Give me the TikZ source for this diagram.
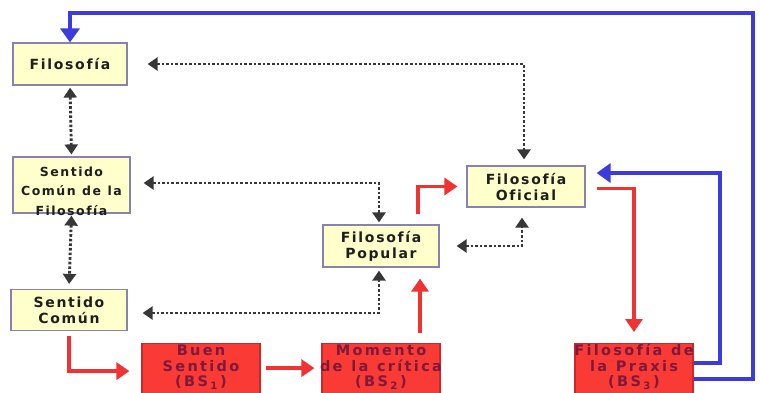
\documentclass[tikz,border=0pt]{standalone}
\usepackage{fontspec}
\usetikzlibrary{arrows.meta}
\newfontfamily\lblfont{DejaVu Sans}
% tracked text: a kern after every character, words split by \gap
\newcommand\trkamt{0.12em}
\newcommand\gap{\hspace{0.28em}}
\def\trk#1{\trkgo#1\trkend\kern-\trkamt}
\def\trkgo#1{\ifx#1\trkend\else#1\kern\trkamt\expandafter\trkgo\fi}
% a line centred on its own, allowed to run past the box edges
\newcommand\ctr[1]{\makebox[0pt]{#1}}
\newcommand\bsub[1]{\trk{(BS}\kern\trkamt\textsubscript{#1}\kern\trkamt)}
\definecolor{yfill}{RGB}{255,255,204}
\definecolor{yborder}{RGB}{135,130,175}
\definecolor{ytext}{RGB}{30,30,30}
\definecolor{rfill}{RGB}{250,58,52}
\definecolor{rborder}{RGB}{205,40,40}
\definecolor{rtext}{RGB}{125,25,60}
\definecolor{arred}{RGB}{240,50,50}
\definecolor{arblue}{RGB}{60,60,222}
\definecolor{dotgray}{RGB}{55,55,55}
\tikzset{
  ybox/.style={draw=yborder, fill=yfill, line width=1.2pt, inner xsep=0pt,
    inner ysep=2pt, align=center, text=ytext,
    font=\lblfont\bfseries\fontsize{14}{16}\selectfont},
  rbox/.style={draw=rborder, fill=rfill, line width=1.2pt, inner xsep=0pt,
    inner ysep=1pt, align=center, anchor=north, text width=118pt,
    text height=11pt, text depth=52pt, text=rtext,
    font=\lblfont\bfseries\fontsize{14.5}{15.5}\selectfont\def\trkamt{0.16em}},
  redarr/.style={draw=arred, line width=3.4pt,
    -{Triangle[length=13pt,width=17pt]}},
  bluearr/.style={draw=arblue, line width=3.4pt,
    -{Triangle[length=14pt,width=19pt]}},
  dotlink/.style={draw=dotgray, line width=2.9pt,
    dash pattern=on 2.6pt off 2pt,
    {Triangle[length=10pt,width=13pt]}-{Triangle[length=10pt,width=13pt]}}
}
\begin{document}
\begin{tikzpicture}[x=1pt,y=-1pt]
\useasboundingbox (0,0) rectangle (760,392);
\fill[white] (0,0) rectangle (760,392);

% yellow boxes
\node[ybox, text width=114pt, minimum height=42pt] (filo) at (70,64) {\trk{Filosofía}};
\node[ybox, text width=117pt, minimum height=56pt, text height=10pt, text depth=28pt,
      font=\lblfont\bfseries\fontsize{12.5}{19.5}\selectfont] (scf) at (71.5,185)
      {\trk{Sentido}\\ \ctr{\trk{Común\gap de\gap la}}\\ \trk{Filosofía}};
\node[ybox, text width=116pt, minimum height=41pt] (sc) at (69,310) {\trk{Sentido}\\ \trk{Común}};
\node[ybox, text width=116pt, minimum height=42pt] (pop) at (381,246) {\trk{Filosofía}\\ \trk{Popular}};
\node[ybox, text width=118pt, minimum height=41pt] (ofi) at (526,186.5) {\trk{Filosofía}\\ \trk{Oficial}};

% red boxes
\node[rbox] (buen) at (201,343) {\trk{Buen}\\ \trk{Sentido}\\ \bsub{1}};
\node[rbox] (mom) at (381,343) {\trk{Momento}\\ \ctr{\trk{de\gap la\gap crítica}}\\ \bsub{2}};
\node[rbox] (praxis) at (634,343) {\ctr{\trk{Filosofía\gap de}}\\ \trk{la\gap Praxis}\\ \bsub{3}};

% corner points of the blue return paths
\coordinate (topR) at (753,13);
\coordinate (midR) at (720,173);

% blue return paths
\draw[bluearr] ([yshift=-3pt]praxis.east) -| (topR) -| (filo.north);
\draw[bluearr, shorten >=11pt] ([yshift=13pt]praxis.east) -| (midR) -- (midR -| ofi.east);

% red progression
\draw[redarr, shorten <=5pt, shorten >=12pt] (sc.south) |- ([yshift=5pt]buen.west);
\draw[redarr, shorten <=5pt, shorten >=7pt] ([yshift=8pt]buen.east) -- ([yshift=8pt]mom.west);
\draw[redarr, shorten <=10pt, shorten >=11pt] ([xshift=39pt]mom.north) -- ([xshift=39pt]pop.south);
\draw[redarr, shorten <=10pt, shorten >=9pt] ([xshift=37pt]pop.north) |- (ofi.west);
\draw[redarr, shorten <=11pt, shorten >=11pt] ([yshift=-2pt]ofi.east) -| (praxis.north);

% dotted two-way links
\draw[dotlink, shorten <=2pt, shorten >=2pt] (filo.south) -- (scf.north);
\draw[dotlink, shorten <=2pt, shorten >=5pt] (scf.south) -- (sc.north);
\draw[dotlink, shorten <=20pt, shorten >=6pt] (filo.east) -| ([xshift=-2pt]ofi.north);
\draw[dotlink, shorten <=13pt, shorten >=2pt] ([yshift=2pt]scf.east) -| ([xshift=-2pt]pop.north);
\draw[dotlink, shorten <=15pt, shorten >=3pt] ([yshift=-3pt]sc.east) -| ([xshift=-2pt]pop.south);
\draw[dotlink, shorten <=17pt, shorten >=10pt] (pop.east) -| ([xshift=-4pt]ofi.south);
\end{tikzpicture}
\end{document}
